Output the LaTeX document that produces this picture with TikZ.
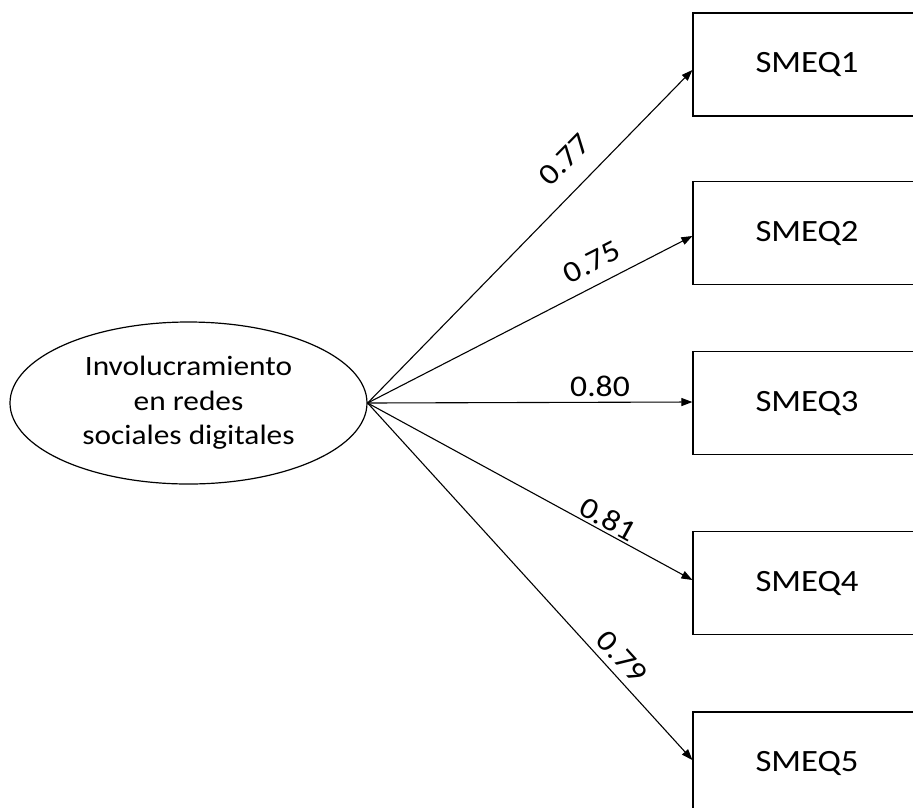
\documentclass[tikz,border=0pt]{standalone}
\usepackage{fontspec}
\setmainfont{Carlito}[FakeStretch=1.12]
\usetikzlibrary{shapes.geometric,arrows.meta}
\begin{document}
\begin{tikzpicture}[x=1pt,y=-1pt,
  box/.style={draw, line width=1.2pt, minimum width=228pt, minimum height=103pt, inner sep=0pt, font=\fontsize{31}{37}\selectfont},
  latent/.style={ellipse, draw, line width=1.2pt, minimum width=357pt, minimum height=162pt, inner sep=0pt, align=center, font=\fontsize{28}{34.5}\selectfont},
  loading/.style={line width=1.1pt, -{Triangle[length=11pt,width=8pt]}},
  coef/.style={font=\fontsize{30}{36}\selectfont, inner sep=0pt}]
\useasboundingbox (0,0) rectangle (913,807);
\clip (0,0) rectangle (913,807);
\node[latent] (f) at (188.5,403) {Involucramiento\\en redes\\sociales digitales};
\node[box] (b1) at (807,64.5) {SMEQ1};
\node[box] (b2) at (807,233) {SMEQ2};
\node[box] (b3) at (807,403) {SMEQ3};
\node[box] (b4) at (807,583) {SMEQ4};
\node[box] (b5) at (807,763.5) {SMEQ5};
\draw[loading] (f.east) -- ([yshift=-5.5pt]b1.west);
\draw[loading] (f.east) -- ([yshift=-3pt]b2.west);
\draw[loading] (f.east) -- ([yshift=1pt]b3.west);
\draw[loading] (f.east) -- ([yshift=3pt]b4.west);
\draw[loading] (f.east) -- ([yshift=3.5pt]b5.west);
\node[coef, rotate=45.5] (l1) at (565,160) {0.77};
\node[coef, rotate=27] (l2) at (592,262) {0.75};
\node[coef] (l3) at (600,386) {0.80};
\node[coef, rotate=-28.6] (l4) at (608,519) {0.81};
\node[coef, rotate=-47.7] (l5) at (622,657) {0.79};
\end{tikzpicture}
\end{document}
